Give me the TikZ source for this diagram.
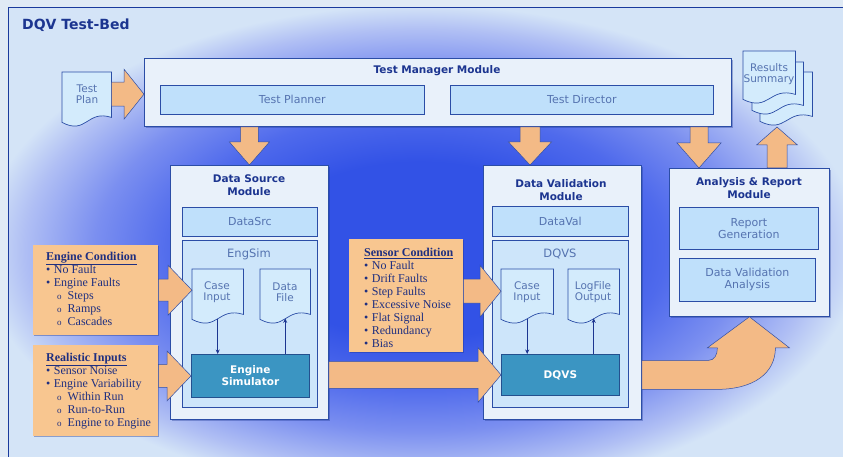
\documentclass[tikz,border=0pt]{standalone}
\usepackage{fontspec}
\setmainfont{Liberation Serif}
\newfontfamily\dejavu{DejaVu Sans}
\usetikzlibrary{calc,shadows,arrows.meta}

\definecolor{outbg}{HTML}{E0EAF5}
\definecolor{bgblue}{HTML}{D4E4F7}
\definecolor{glowA}{HTML}{3252E6}
\definecolor{glowB}{HTML}{4F6AEC}
\definecolor{glowC}{HTML}{7B8FF0}
\definecolor{glowD}{HTML}{B0BFF4}
\definecolor{navy}{HTML}{1C3590}
\definecolor{frameblue}{HTML}{1A3A9C}
\definecolor{modfill}{HTML}{E9F1FA}
\definecolor{modedge}{HTML}{2B4DA6}
\definecolor{infill}{HTML}{BFE0FB}
\definecolor{contfill}{HTML}{CDE5FA}
\definecolor{docfillc}{HTML}{D3EBFC}
\definecolor{lbltext}{HTML}{5573B0}
\definecolor{simfill}{HTML}{3B95C2}
\definecolor{simedge}{HTML}{24508E}
\definecolor{orangefill}{HTML}{F8C690}
\definecolor{arrowfill}{HTML}{F3BA86}
\definecolor{arrowedge}{HTML}{2E4EA8}
\definecolor{otext}{HTML}{1F2F80}

% soft blue glow; 25bp is the rim of the shaded path
\pgfdeclareradialshading{blueglow}{\pgfpoint{0bp}{0bp}}{%
  color(0bp)=(glowA); color(9bp)=(glowA); color(14bp)=(glowB);
  color(18.5bp)=(glowC); color(22.5bp)=(glowD); color(25bp)=(bgblue);
  color(50bp)=(bgblue)}

% document symbol with a wavy bottom edge, sized by an (empty) node
\newcommand\docshape[1]{%
  \path[docline] let \p1=(#1.north west), \p2=(#1.south east), \n1={\x2-\x1} in
    (\x1,\y1) -- (\x2,\y1) -- (\x2,\y2+9pt)
    .. controls (\x2-0.5*\n1,\y2+17pt) and (\x1+0.5*\n1,\y2-9pt) .. (\x1,\y2+4pt)
    -- cycle;}

% block arrows: from, to, shaft half width, head half width, head length
\newcommand\barrowh[5]{%
  \path[blockarrow] let \p1=(#1), \p2=(#2) in
    (\x1,\y1+#3) -- (\x2-#5,\y1+#3) -- (\x2-#5,\y1+#4) -- (\x2,\y1)
    -- (\x2-#5,\y1-#4) -- (\x2-#5,\y1-#3) -- (\x1,\y1-#3) -- cycle;}
\newcommand\barrowdown[5]{%
  \path[blockarrow] let \p1=(#1), \p2=(#2) in
    (\x1-#3,\y1) -- (\x1-#3,\y2+#5) -- (\x1-#4,\y2+#5) -- (\x1,\y2)
    -- (\x1+#4,\y2+#5) -- (\x1+#3,\y2+#5) -- (\x1+#3,\y1) -- cycle;}
\newcommand\barrowup[5]{%
  \path[blockarrow] let \p1=(#1), \p2=(#2) in
    (\x1-#3,\y1) -- (\x1-#3,\y2-#5) -- (\x1-#4,\y2-#5) -- (\x1,\y2)
    -- (\x1+#4,\y2-#5) -- (\x1+#3,\y2-#5) -- (\x1+#3,\y1) -- cycle;}

\newcommand\bul{\textbullet\hspace{3.5pt}}
\newcommand\subi{\hspace*{11pt}{\fontsize{9}{13}\selectfont o}\hspace{6pt}}

\begin{document}
\begin{tikzpicture}[x=1pt,y=-1pt,
  rect/.style 2 args={minimum width=#1pt, minimum height=#2pt, anchor=north west, inner sep=0pt},
  modbox/.style={draw=modedge, line width=0.8pt, fill=modfill,
    drop shadow={shadow xshift=1.5pt, shadow yshift=-1.5pt, opacity=0.35, fill=navy}},
  inbox/.style={draw=modedge, line width=0.7pt, fill=infill,
    font=\dejavu\fontsize{11}{12}\selectfont, text=lbltext, align=center},
  contbox/.style={draw=modedge, line width=0.7pt, fill=contfill},
  simbox/.style={draw=simedge, line width=0.8pt, fill=simfill, text=white,
    font=\dejavu\bfseries\fontsize{10.5}{12}\selectfont, align=center},
  docnode/.style={inner sep=0pt},
  docline/.style={fill=docfillc, draw=modedge, line width=0.7pt},
  doctext/.style={font=\dejavu\fontsize{10.5}{11.5}\selectfont, text=lbltext, align=center, inner sep=0pt},
  modtitle/.style={font=\dejavu\bfseries\fontsize{10.5}{13.5}\selectfont, text=navy, align=center, inner sep=0pt},
  contlabel/.style={font=\dejavu\fontsize{11.5}{12}\selectfont, text=lbltext, inner sep=0pt},
  obox/.style={fill=orangefill,
    drop shadow={shadow xshift=1.2pt, shadow yshift=-1.2pt, opacity=0.4, fill=navy}},
  otextstyle/.style={font=\fontsize{12}{13}\selectfont, text=otext, align=left, inner sep=0pt, anchor=north west},
  blockarrow/.style={fill=arrowfill, draw=arrowedge, line width=0.5pt},
  thinarrow/.style={draw=navy, line width=0.8pt, -{Stealth[length=4.5pt,width=4pt]}},
  frameline/.style={draw=frameblue, line width=1pt}]

\useasboundingbox (0,0) rectangle (843,457);

% backdrop with the blue glow in the middle
\fill[outbg] (0,0) rectangle (843,457);
\begin{scope}
  \clip (8,8) rectangle (843,457);
  \fill[bgblue] (8,8) rectangle (843,457);
  \shade[shading=blueglow] (420,250) ellipse [x radius=440pt, y radius=245pt];
\end{scope}
\draw[frameline] (8,457) -- (8,8) -- (843,8);

\node[anchor=west, font=\dejavu\bfseries\fontsize{14}{16}\selectfont, text=navy, inner sep=0pt]
  (title) at (22,25) {DQV Test-Bed};

% ---------- Test manager ----------
\node[modbox, rect={587}{68}] (tm) at (144,58) {};
\node[modtitle] (tmt) at (437,71) {Test Manager Module};
\node[inbox, rect={264}{29}] (tp) at (160,85) {Test Planner};
\node[inbox, rect={263}{29}] (td) at (450,85) {Test Director};

% test plan document
\node[docnode, rect={49}{54}] (plan) at (62,72) {};
\docshape{plan}
\node[doctext] (plant) at (87,94) {Test\\Plan};

% results summary stack
\node[docnode, rect={52}{53}] (r3) at (760,72) {};
\docshape{r3}
\node[docnode, rect={51}{52}] (r2) at (752,62) {};
\docshape{r2}
\node[docnode, rect={52}{52}] (r1) at (743,51) {};
\docshape{r1}
\node[doctext] (r1t) at (769,74) {Results\\Summary};

% ---------- Data source module ----------
\node[modbox, rect={158}{254}] (dsm) at (170,165) {};
\node[modtitle] (dsmt) at (249,185) {Data Source\\Module};
\node[inbox, rect={135}{29}] (dsrc) at (182,207) {DataSrc};
\node[contbox, rect={135}{167}] (eng) at (182,240) {};
\node[contlabel] (engt) at (249,254) {EngSim};
\node[docnode, rect={51}{54}] (cin1) at (192,269) {};
\docshape{cin1}
\node[doctext] (cin1t) at (217,292) {Case\\Input};
\node[docnode, rect={50}{54}] (dfile) at (260,269) {};
\docshape{dfile}
\node[doctext] (dfilet) at (285,292) {Data\\File};
\node[simbox, rect={118}{43}] (esim) at (191,354) {Engine\\Simulator};
\draw[thinarrow] ([yshift=4pt]cin1.south) -- (cin1.south |- esim.north);
\draw[thinarrow] (esim.north -| dfile.south) -- ([yshift=5pt]dfile.south);

% ---------- Data validation module ----------
\node[modbox, rect={158}{254}] (dvm) at (483,165) {};
\node[modtitle] (dvmt) at (561,190) {Data Validation\\Module};
\node[inbox, rect={136}{30}] (dval) at (492,206) {DataVal};
\node[contbox, rect={136}{167}] (dqc) at (492,240) {};
\node[contlabel] (dqct) at (560,254) {DQVS};
\node[docnode, rect={52}{54}] (cin2) at (501,269) {};
\docshape{cin2}
\node[doctext] (cin2t) at (527,292) {Case\\Input};
\node[docnode, rect={51}{54}] (logf) at (568,269) {};
\docshape{logf}
\node[doctext] (logft) at (593,292) {LogFile\\Output};
\node[simbox, rect={118}{41}] (dqvs) at (501,354) {DQVS};
\draw[thinarrow] ([yshift=4pt]cin2.south) -- (cin2.south |- dqvs.north);
\draw[thinarrow] (dqvs.north -| logf.south) -- ([yshift=5pt]logf.south);

% ---------- Analysis & report module ----------
\node[modbox, rect={160}{148}] (arm) at (669,168) {};
\node[modtitle] (armt) at (749,188) {Analysis \& Report\\Module};
\node[inbox, rect={139}{42}] (rg) at (679,207) {Report\\Generation};
\node[inbox, rect={136}{43}] (dva) at (679,258) {Data Validation\\Analysis};

% ---------- condition boxes ----------
\node[obox, rect={125}{90}] (ec) at (33,245) {};
\node[otextstyle] (ect) at (46,252) {\underline{\textbf{Engine Condition}}\\
  \bul No Fault\\ \bul Engine Faults\\ \subi Steps\\ \subi Ramps\\ \subi Cascades};
\node[obox, rect={125}{91}] (ri) at (33,345) {};
\node[otextstyle] (rit) at (46,353) {\underline{\textbf{Realistic Inputs}}\\
  \bul Sensor Noise\\ \bul Engine Variability\\ \subi Within Run\\ \subi Run-to-Run\\ \subi Engine to Engine};
\node[obox, rect={114}{113}] (sc) at (349,239) {};
\node[otextstyle] (sct) at (364,248) {\underline{\textbf{Sensor Condition}}\\
  \bul No Fault\\ \bul Drift Faults\\ \bul Step Faults\\ \bul Excessive Noise\\
  \bul Flat Signal\\ \bul Redundancy\\ \bul Bias};

% ---------- block arrows ----------
\coordinate (dvin) at (530,165);
\coordinate (arin) at (699,168);
\coordinate (rsout) at (777,127);
\barrowh{[yshift=5pt]plan.east}{tm.west}{12pt}{25pt}{20pt}
\barrowdown{tm.south -| dsm.north}{dsm.north}{9pt}{20pt}{23pt}
\barrowdown{tm.south -| dvin}{dvin}{10pt}{21.5pt}{23pt}
\barrowdown{tm.south -| arin}{arin}{9pt}{22pt}{25pt}
\barrowup{arm.north -| rsout}{rsout}{10pt}{20.5pt}{18pt}
\barrowh{ec.east}{cin1.west}{11pt}{25pt}{24pt}
\barrowh{ri.east |- esim.west}{esim.west}{11.5pt}{25pt}{24pt}
\barrowh{[yshift=4.5pt]sc.east}{cin2.west}{12pt}{26pt}{21pt}
\barrowh{dsm.east |- dqvs.west}{dqvs.west}{13.5pt}{27.5pt}{23pt}
% curved arrow from the validator up into the analysis module
\path[blockarrow] let \p1=(dvm.east |- dqvs.center), \p2=(arm.south) in
  (\x1,\y1+14.5pt) -- (\x2-41pt,\y1+14.5pt)
  .. controls (\x2-35pt,\y1+14.5pt) and (\x2-32pt,\y2-38pt) .. (\x2-32pt,\y2-31pt)
  -- (\x2-42pt,\y2-31pt) -- (\x2,\y2) -- (\x2+40pt,\y2-31pt) -- (\x2+26pt,\y2-31pt)
  .. controls (\x2+26pt,\y2-56pt) and (\x2+5pt,\y1-14.5pt) .. (\x2-33pt,\y1-14.5pt)
  -- (\x1,\y1-14.5pt) -- cycle;

\end{tikzpicture}
\end{document}
